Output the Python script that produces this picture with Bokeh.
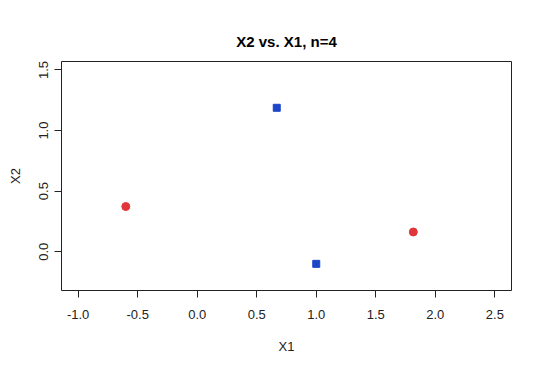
from bokeh.plotting import figure
from bokeh.models import Range1d, FixedTicker, PrintfTickFormatter
from bokeh.embed import file_html
from bokeh.resources import INLINE

# Data
red_x1 = [-0.60, 1.815]
red_x2 = [0.373, 0.163]
blue_x1 = [0.668, 1.0]
blue_x2 = [1.188, -0.10]
x_ticks = [-1.0, -0.5, 0.0, 0.5, 1.0, 1.5, 2.0, 2.5]
y_ticks = [0.0, 0.5, 1.0, 1.5]
title_text = "X2 vs. X1, n=4"

FONT = "Liberation Sans"

p = figure(width=540, height=366, output_backend="svg", toolbar_location=None,
           x_range=Range1d(-1.14, 2.64), y_range=Range1d(-0.32, 1.57),
           min_border_left=61, min_border_right=29, min_border_top=61, min_border_bottom=76)

p.title.text = title_text
p.title.text_font = FONT
p.title.text_font_size = "15px"
p.title.text_font_style = "bold"
p.title.align = "center"
p.title.text_color = "black"
p.title.standoff = 24

p.grid.visible = False
p.outline_line_color = "#222222"
p.outline_line_width = 1
p.background_fill_color = "white"
p.border_fill_color = "white"

for ax, ticks in ((p.xaxis, x_ticks), (p.yaxis, y_ticks)):
    ax.ticker = FixedTicker(ticks=ticks)
    ax.formatter = PrintfTickFormatter(format="%.1f")
    ax.axis_line_color = None
    ax.major_tick_in = 0
    ax.major_tick_out = 7
    ax.major_tick_line_color = "#222222"
    ax.minor_tick_line_color = None
    ax.major_label_text_font = FONT
    ax.major_label_text_font_size = "13px"
    ax.major_label_text_color = "#222222"
    ax.axis_label_text_font = FONT
    ax.axis_label_text_font_size = "13px"
    ax.axis_label_text_font_style = "normal"
    ax.axis_label_text_color = "#222222"

p.xaxis.axis_label = "X1"
p.yaxis.axis_label = "X2"
p.xaxis.major_label_standoff = 12
p.xaxis.axis_label_standoff = 17
p.yaxis.major_label_orientation = "vertical"
p.yaxis.major_label_standoff = 6
p.yaxis.axis_label_standoff = 14

p.scatter(red_x1, red_x2, marker="circle", size=8, fill_color="#E0353A", line_color="#E0353A")
p.scatter(blue_x1, blue_x2, marker="square", size=7, fill_color="#1C45C8", line_color="#1C45C8")

open("out.html", "w").write(file_html(p, INLINE))
